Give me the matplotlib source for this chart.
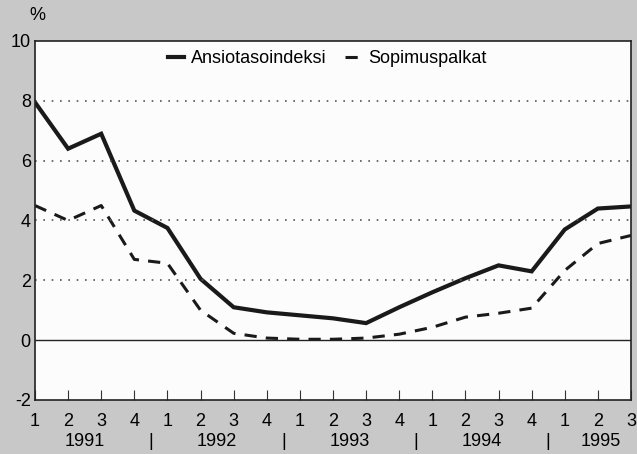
import matplotlib as mpl
mpl.use('Agg')
import matplotlib.pyplot as plt

# quarterly data 1991Q1 - 1995Q3, annual change %
quarters = ["1", "2", "3", "4"] * 4 + ["1", "2", "3"]
years = ["1991", "1992", "1993", "1994", "1995"]
ansiotaso = [7.95, 6.4, 6.9, 4.33, 3.75, 2.05, 1.1, 0.93, 0.83, 0.73, 0.57,
             1.1, 1.6, 2.07, 2.5, 2.3, 3.7, 4.4, 4.47]
sopimus = [4.5, 4.0, 4.5, 2.7, 2.57, 1.0, 0.23, 0.07, 0.03, 0.03, 0.07,
           0.2, 0.43, 0.77, 0.9, 1.07, 2.33, 3.23, 3.5]

mpl.rcParams.update({'font.family': 'Liberation Sans', 'font.size': 13,
                     'axes.unicode_minus': False})

fig = plt.figure(figsize=(6.37, 4.54), dpi=100)
fig.patch.set_facecolor('#c8c8c8')
ax = fig.add_axes([35/637, 1-400/454, 596/637, 359/454])
ax.set_facecolor('#fcfcfc')

x = list(range(len(quarters)))
ax.plot(x, ansiotaso, color='#1a1a1a', lw=3.0, solid_joinstyle='miter',
        label='Ansiotasoindeksi')
ax.plot(x, sopimus, color='#1a1a1a', lw=2.2, dashes=(4, 3),
        label='Sopimuspalkat')

for yv in [2, 4, 6, 8]:
  ax.axhline(yv, color='#555555', lw=1.2, ls=(0, (1, 4)))
ax.axhline(0, color='#222222', lw=1.0)

ax.set_xlim(0, len(quarters)-1)
ax.set_ylim(-2, 10)
ax.set_yticks([-2, 0, 2, 4, 6, 8, 10])
ax.tick_params(axis='y', length=0, pad=3, labelsize=13)
ax.set_xticks(x)
ax.set_xticklabels(quarters)
ax.tick_params(axis='x', direction='in', length=7, width=0.8, pad=9,
               labelsize=13, color='#333333')
for s in ax.spines.values():
  s.set_color('#222222')
  s.set_linewidth(1.2)

ax.text(-0.01, 1.07, '%', transform=ax.transAxes, fontsize=13,
        ha='left', va='center')

# year labels and separators
starts = [0, 4, 8, 12, 16]
for i, yr in enumerate(years):
  end = min(starts[i]+3, len(quarters)-1)
  mid = (starts[i]+end)/2 + (0.1 if yr == "1995" else 0)
  ax.text(mid, -3.4, yr, ha='center', va='center', fontsize=13,
          transform=ax.transData, clip_on=False)
  if i > 0:
    ax.text(starts[i]-0.5, -3.4, '|', ha='center', va='center',
            fontsize=13, transform=ax.transData, clip_on=False)

leg = ax.legend(loc='upper center', ncol=2, frameon=False, fontsize=13,
                handlelength=0.9, handletextpad=0.4, columnspacing=1.0,
                borderaxespad=0.1, bbox_to_anchor=(0.49, 1.0))

fig.savefig('out.png', dpi=100, facecolor=fig.get_facecolor())
